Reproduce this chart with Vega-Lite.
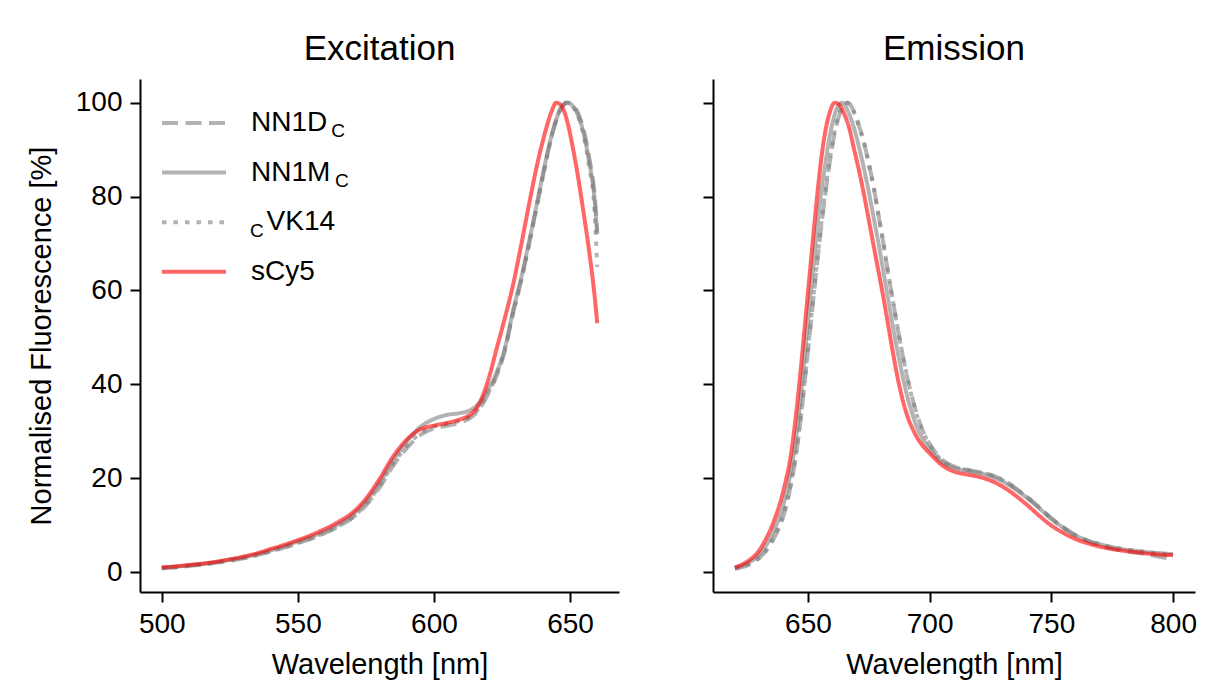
{
  "$schema": "https://vega.github.io/schema/vega-lite/v6.json",
  "background": "white",
  "padding": {"left": 27, "top": 32, "right": 5, "bottom": 5},
  "config": {
    "font": "Liberation Sans",
    "view": {"stroke": null},
    "axis": {"domainColor": "black", "domainWidth": 2, "tickColor": "black", "tickWidth": 2, "tickSize": 10, "labelFontSize": 28, "labelColor": "black", "titleFontSize": 29, "titleColor": "black", "titleFontWeight": "normal", "grid": false, "labelPadding": 5},
    "title": {"fontSize": 35, "fontWeight": "normal", "color": "black", "anchor": "middle", "offset": 12}
  },
  "datasets": {
    "spectra": [
      {"panel":"Excitation","sample":"NN1DC","nm":500,"pct":0.8},{"panel":"Excitation","sample":"NN1DC","nm":505,"pct":1.0},{"panel":"Excitation","sample":"NN1DC","nm":510,"pct":1.3},{"panel":"Excitation","sample":"NN1DC","nm":515,"pct":1.6},{"panel":"Excitation","sample":"NN1DC","nm":520,"pct":2.0},{"panel":"Excitation","sample":"NN1DC","nm":525,"pct":2.4},{"panel":"Excitation","sample":"NN1DC","nm":530,"pct":2.9},{"panel":"Excitation","sample":"NN1DC","nm":535,"pct":3.6},{"panel":"Excitation","sample":"NN1DC","nm":540,"pct":4.4},{"panel":"Excitation","sample":"NN1DC","nm":545,"pct":5.2},{"panel":"Excitation","sample":"NN1DC","nm":550,"pct":6.1},{"panel":"Excitation","sample":"NN1DC","nm":555,"pct":7.1},{"panel":"Excitation","sample":"NN1DC","nm":560,"pct":8.3},{"panel":"Excitation","sample":"NN1DC","nm":565,"pct":9.7},{"panel":"Excitation","sample":"NN1DC","nm":570,"pct":11.5},{"panel":"Excitation","sample":"NN1DC","nm":575,"pct":14.2},{"panel":"Excitation","sample":"NN1DC","nm":580,"pct":18.0},{"panel":"Excitation","sample":"NN1DC","nm":585,"pct":22.6},{"panel":"Excitation","sample":"NN1DC","nm":590,"pct":26.4},{"panel":"Excitation","sample":"NN1DC","nm":595,"pct":29.2},{"panel":"Excitation","sample":"NN1DC","nm":600,"pct":30.6},{"panel":"Excitation","sample":"NN1DC","nm":605,"pct":31.2},{"panel":"Excitation","sample":"NN1DC","nm":610,"pct":31.9},{"panel":"Excitation","sample":"NN1DC","nm":613,"pct":32.7},{"panel":"Excitation","sample":"NN1DC","nm":616,"pct":34.2},{"panel":"Excitation","sample":"NN1DC","nm":620,"pct":38.0},{"panel":"Excitation","sample":"NN1DC","nm":623,"pct":41.8},{"panel":"Excitation","sample":"NN1DC","nm":626,"pct":47.0},{"panel":"Excitation","sample":"NN1DC","nm":629,"pct":55.0},{"panel":"Excitation","sample":"NN1DC","nm":632,"pct":62.0},{"panel":"Excitation","sample":"NN1DC","nm":635,"pct":70.0},{"panel":"Excitation","sample":"NN1DC","nm":638,"pct":78.5},{"panel":"Excitation","sample":"NN1DC","nm":641,"pct":87.0},{"panel":"Excitation","sample":"NN1DC","nm":643,"pct":92.3},{"panel":"Excitation","sample":"NN1DC","nm":645,"pct":96.3},{"panel":"Excitation","sample":"NN1DC","nm":647,"pct":99.0},{"panel":"Excitation","sample":"NN1DC","nm":649,"pct":100},{"panel":"Excitation","sample":"NN1DC","nm":651,"pct":99.5},{"panel":"Excitation","sample":"NN1DC","nm":653,"pct":97.8},{"panel":"Excitation","sample":"NN1DC","nm":655,"pct":94.3},{"panel":"Excitation","sample":"NN1DC","nm":657,"pct":88.5},{"panel":"Excitation","sample":"NN1DC","nm":659,"pct":80.5},{"panel":"Excitation","sample":"NN1DC","nm":660,"pct":72.5},
      {"panel":"Excitation","sample":"NN1MC","nm":500,"pct":0.9},{"panel":"Excitation","sample":"NN1MC","nm":505,"pct":1.1},{"panel":"Excitation","sample":"NN1MC","nm":510,"pct":1.4},{"panel":"Excitation","sample":"NN1MC","nm":515,"pct":1.7},{"panel":"Excitation","sample":"NN1MC","nm":520,"pct":2.1},{"panel":"Excitation","sample":"NN1MC","nm":525,"pct":2.6},{"panel":"Excitation","sample":"NN1MC","nm":530,"pct":3.1},{"panel":"Excitation","sample":"NN1MC","nm":535,"pct":3.8},{"panel":"Excitation","sample":"NN1MC","nm":540,"pct":4.6},{"panel":"Excitation","sample":"NN1MC","nm":545,"pct":5.5},{"panel":"Excitation","sample":"NN1MC","nm":550,"pct":6.5},{"panel":"Excitation","sample":"NN1MC","nm":555,"pct":7.5},{"panel":"Excitation","sample":"NN1MC","nm":560,"pct":8.7},{"panel":"Excitation","sample":"NN1MC","nm":565,"pct":10.2},{"panel":"Excitation","sample":"NN1MC","nm":570,"pct":12.1},{"panel":"Excitation","sample":"NN1MC","nm":575,"pct":15.0},{"panel":"Excitation","sample":"NN1MC","nm":580,"pct":19.0},{"panel":"Excitation","sample":"NN1MC","nm":585,"pct":23.8},{"panel":"Excitation","sample":"NN1MC","nm":590,"pct":27.8},{"panel":"Excitation","sample":"NN1MC","nm":595,"pct":30.9},{"panel":"Excitation","sample":"NN1MC","nm":600,"pct":32.6},{"panel":"Excitation","sample":"NN1MC","nm":605,"pct":33.5},{"panel":"Excitation","sample":"NN1MC","nm":610,"pct":33.9},{"panel":"Excitation","sample":"NN1MC","nm":613,"pct":34.4},{"panel":"Excitation","sample":"NN1MC","nm":616,"pct":35.6},{"panel":"Excitation","sample":"NN1MC","nm":620,"pct":39.0},{"panel":"Excitation","sample":"NN1MC","nm":623,"pct":42.5},{"panel":"Excitation","sample":"NN1MC","nm":626,"pct":47.5},{"panel":"Excitation","sample":"NN1MC","nm":629,"pct":55.5},{"panel":"Excitation","sample":"NN1MC","nm":632,"pct":62.5},{"panel":"Excitation","sample":"NN1MC","nm":635,"pct":70.5},{"panel":"Excitation","sample":"NN1MC","nm":638,"pct":79.0},{"panel":"Excitation","sample":"NN1MC","nm":641,"pct":87.5},{"panel":"Excitation","sample":"NN1MC","nm":643,"pct":92.5},{"panel":"Excitation","sample":"NN1MC","nm":645,"pct":96.5},{"panel":"Excitation","sample":"NN1MC","nm":647,"pct":99.2},{"panel":"Excitation","sample":"NN1MC","nm":649,"pct":100},{"panel":"Excitation","sample":"NN1MC","nm":651,"pct":99.3},{"panel":"Excitation","sample":"NN1MC","nm":653,"pct":97.2},{"panel":"Excitation","sample":"NN1MC","nm":655,"pct":93.5},{"panel":"Excitation","sample":"NN1MC","nm":657,"pct":87.5},{"panel":"Excitation","sample":"NN1MC","nm":659,"pct":79.5},{"panel":"Excitation","sample":"NN1MC","nm":660,"pct":72.0},
      {"panel":"Excitation","sample":"cVK14","nm":500,"pct":0.8},{"panel":"Excitation","sample":"cVK14","nm":505,"pct":1.0},{"panel":"Excitation","sample":"cVK14","nm":510,"pct":1.3},{"panel":"Excitation","sample":"cVK14","nm":515,"pct":1.6},{"panel":"Excitation","sample":"cVK14","nm":520,"pct":2.0},{"panel":"Excitation","sample":"cVK14","nm":525,"pct":2.5},{"panel":"Excitation","sample":"cVK14","nm":530,"pct":3.0},{"panel":"Excitation","sample":"cVK14","nm":535,"pct":3.6},{"panel":"Excitation","sample":"cVK14","nm":540,"pct":4.4},{"panel":"Excitation","sample":"cVK14","nm":545,"pct":5.3},{"panel":"Excitation","sample":"cVK14","nm":550,"pct":6.2},{"panel":"Excitation","sample":"cVK14","nm":555,"pct":7.2},{"panel":"Excitation","sample":"cVK14","nm":560,"pct":8.4},{"panel":"Excitation","sample":"cVK14","nm":565,"pct":9.8},{"panel":"Excitation","sample":"cVK14","nm":570,"pct":11.6},{"panel":"Excitation","sample":"cVK14","nm":575,"pct":14.4},{"panel":"Excitation","sample":"cVK14","nm":580,"pct":18.3},{"panel":"Excitation","sample":"cVK14","nm":585,"pct":23.0},{"panel":"Excitation","sample":"cVK14","nm":590,"pct":26.8},{"panel":"Excitation","sample":"cVK14","nm":595,"pct":29.6},{"panel":"Excitation","sample":"cVK14","nm":600,"pct":31.0},{"panel":"Excitation","sample":"cVK14","nm":605,"pct":31.6},{"panel":"Excitation","sample":"cVK14","nm":610,"pct":32.3},{"panel":"Excitation","sample":"cVK14","nm":613,"pct":33.0},{"panel":"Excitation","sample":"cVK14","nm":616,"pct":34.5},{"panel":"Excitation","sample":"cVK14","nm":620,"pct":38.3},{"panel":"Excitation","sample":"cVK14","nm":623,"pct":42.0},{"panel":"Excitation","sample":"cVK14","nm":626,"pct":47.5},{"panel":"Excitation","sample":"cVK14","nm":629,"pct":55.0},{"panel":"Excitation","sample":"cVK14","nm":632,"pct":62.0},{"panel":"Excitation","sample":"cVK14","nm":635,"pct":70.0},{"panel":"Excitation","sample":"cVK14","nm":638,"pct":78.5},{"panel":"Excitation","sample":"cVK14","nm":641,"pct":87.0},{"panel":"Excitation","sample":"cVK14","nm":643,"pct":92.3},{"panel":"Excitation","sample":"cVK14","nm":645,"pct":96.5},{"panel":"Excitation","sample":"cVK14","nm":647,"pct":99.2},{"panel":"Excitation","sample":"cVK14","nm":649,"pct":100},{"panel":"Excitation","sample":"cVK14","nm":651,"pct":99.2},{"panel":"Excitation","sample":"cVK14","nm":653,"pct":97.0},{"panel":"Excitation","sample":"cVK14","nm":655,"pct":93.0},{"panel":"Excitation","sample":"cVK14","nm":657,"pct":86.5},{"panel":"Excitation","sample":"cVK14","nm":659,"pct":77.0},{"panel":"Excitation","sample":"cVK14","nm":660,"pct":65.0},
      {"panel":"Excitation","sample":"sCy5","nm":500,"pct":1.0},{"panel":"Excitation","sample":"sCy5","nm":505,"pct":1.2},{"panel":"Excitation","sample":"sCy5","nm":510,"pct":1.5},{"panel":"Excitation","sample":"sCy5","nm":515,"pct":1.8},{"panel":"Excitation","sample":"sCy5","nm":520,"pct":2.2},{"panel":"Excitation","sample":"sCy5","nm":525,"pct":2.7},{"panel":"Excitation","sample":"sCy5","nm":530,"pct":3.3},{"panel":"Excitation","sample":"sCy5","nm":535,"pct":4.0},{"panel":"Excitation","sample":"sCy5","nm":540,"pct":4.9},{"panel":"Excitation","sample":"sCy5","nm":545,"pct":5.8},{"panel":"Excitation","sample":"sCy5","nm":550,"pct":6.8},{"panel":"Excitation","sample":"sCy5","nm":555,"pct":7.9},{"panel":"Excitation","sample":"sCy5","nm":560,"pct":9.2},{"panel":"Excitation","sample":"sCy5","nm":565,"pct":10.7},{"panel":"Excitation","sample":"sCy5","nm":570,"pct":12.6},{"panel":"Excitation","sample":"sCy5","nm":575,"pct":15.6},{"panel":"Excitation","sample":"sCy5","nm":580,"pct":19.8},{"panel":"Excitation","sample":"sCy5","nm":585,"pct":24.6},{"panel":"Excitation","sample":"sCy5","nm":590,"pct":28.2},{"panel":"Excitation","sample":"sCy5","nm":595,"pct":30.4},{"panel":"Excitation","sample":"sCy5","nm":600,"pct":31.2},{"panel":"Excitation","sample":"sCy5","nm":605,"pct":31.8},{"panel":"Excitation","sample":"sCy5","nm":610,"pct":32.6},{"panel":"Excitation","sample":"sCy5","nm":613,"pct":33.4},{"panel":"Excitation","sample":"sCy5","nm":616,"pct":35.2},{"panel":"Excitation","sample":"sCy5","nm":620,"pct":41.0},{"panel":"Excitation","sample":"sCy5","nm":623,"pct":47.5},{"panel":"Excitation","sample":"sCy5","nm":626,"pct":54.0},{"panel":"Excitation","sample":"sCy5","nm":629,"pct":61.0},{"panel":"Excitation","sample":"sCy5","nm":632,"pct":69.5},{"panel":"Excitation","sample":"sCy5","nm":635,"pct":78.5},{"panel":"Excitation","sample":"sCy5","nm":638,"pct":87.0},{"panel":"Excitation","sample":"sCy5","nm":641,"pct":94.0},{"panel":"Excitation","sample":"sCy5","nm":643,"pct":97.8},{"panel":"Excitation","sample":"sCy5","nm":645,"pct":100},{"panel":"Excitation","sample":"sCy5","nm":647,"pct":99.2},{"panel":"Excitation","sample":"sCy5","nm":649,"pct":96.0},{"panel":"Excitation","sample":"sCy5","nm":651,"pct":90.5},{"panel":"Excitation","sample":"sCy5","nm":653,"pct":84.0},{"panel":"Excitation","sample":"sCy5","nm":655,"pct":76.5},{"panel":"Excitation","sample":"sCy5","nm":657,"pct":68.5},{"panel":"Excitation","sample":"sCy5","nm":659,"pct":59.0},{"panel":"Excitation","sample":"sCy5","nm":660,"pct":53.0},
      {"panel":"Emission","sample":"NN1DC","nm":620,"pct":0.7},{"panel":"Emission","sample":"NN1DC","nm":625,"pct":1.4},{"panel":"Emission","sample":"NN1DC","nm":630,"pct":3.0},{"panel":"Emission","sample":"NN1DC","nm":633,"pct":4.6},{"panel":"Emission","sample":"NN1DC","nm":636,"pct":7.2},{"panel":"Emission","sample":"NN1DC","nm":640,"pct":12.0},{"panel":"Emission","sample":"NN1DC","nm":643,"pct":18.5},{"panel":"Emission","sample":"NN1DC","nm":645,"pct":24.5},{"panel":"Emission","sample":"NN1DC","nm":647,"pct":32.5},{"panel":"Emission","sample":"NN1DC","nm":649,"pct":42.0},{"panel":"Emission","sample":"NN1DC","nm":651,"pct":52.0},{"panel":"Emission","sample":"NN1DC","nm":653,"pct":62.0},{"panel":"Emission","sample":"NN1DC","nm":655,"pct":71.5},{"panel":"Emission","sample":"NN1DC","nm":657,"pct":80.0},{"panel":"Emission","sample":"NN1DC","nm":659,"pct":87.5},{"panel":"Emission","sample":"NN1DC","nm":661,"pct":93.5},{"panel":"Emission","sample":"NN1DC","nm":663,"pct":97.5},{"panel":"Emission","sample":"NN1DC","nm":665,"pct":99.6},{"panel":"Emission","sample":"NN1DC","nm":666,"pct":100},{"panel":"Emission","sample":"NN1DC","nm":667,"pct":99.8},{"panel":"Emission","sample":"NN1DC","nm":669,"pct":98.0},{"panel":"Emission","sample":"NN1DC","nm":671,"pct":95.0},{"panel":"Emission","sample":"NN1DC","nm":673,"pct":91.5},{"panel":"Emission","sample":"NN1DC","nm":675,"pct":87.0},{"panel":"Emission","sample":"NN1DC","nm":677,"pct":82.0},{"panel":"Emission","sample":"NN1DC","nm":679,"pct":76.0},{"panel":"Emission","sample":"NN1DC","nm":681,"pct":70.0},{"panel":"Emission","sample":"NN1DC","nm":683,"pct":63.5},{"panel":"Emission","sample":"NN1DC","nm":685,"pct":57.5},{"panel":"Emission","sample":"NN1DC","nm":687,"pct":51.5},{"panel":"Emission","sample":"NN1DC","nm":689,"pct":46.0},{"panel":"Emission","sample":"NN1DC","nm":691,"pct":41.0},{"panel":"Emission","sample":"NN1DC","nm":693,"pct":36.8},{"panel":"Emission","sample":"NN1DC","nm":695,"pct":33.2},{"panel":"Emission","sample":"NN1DC","nm":697,"pct":30.3},{"panel":"Emission","sample":"NN1DC","nm":700,"pct":27.3},{"panel":"Emission","sample":"NN1DC","nm":705,"pct":24.0},{"panel":"Emission","sample":"NN1DC","nm":710,"pct":22.5},{"panel":"Emission","sample":"NN1DC","nm":715,"pct":21.8},{"panel":"Emission","sample":"NN1DC","nm":720,"pct":21.3},{"panel":"Emission","sample":"NN1DC","nm":725,"pct":20.7},{"panel":"Emission","sample":"NN1DC","nm":730,"pct":19.7},{"panel":"Emission","sample":"NN1DC","nm":735,"pct":18.0},{"panel":"Emission","sample":"NN1DC","nm":740,"pct":16.0},{"panel":"Emission","sample":"NN1DC","nm":745,"pct":13.8},{"panel":"Emission","sample":"NN1DC","nm":750,"pct":11.5},{"panel":"Emission","sample":"NN1DC","nm":755,"pct":9.5},{"panel":"Emission","sample":"NN1DC","nm":760,"pct":7.8},{"panel":"Emission","sample":"NN1DC","nm":765,"pct":6.6},{"panel":"Emission","sample":"NN1DC","nm":770,"pct":5.7},{"panel":"Emission","sample":"NN1DC","nm":775,"pct":5.0},{"panel":"Emission","sample":"NN1DC","nm":780,"pct":4.5},{"panel":"Emission","sample":"NN1DC","nm":785,"pct":4.1},{"panel":"Emission","sample":"NN1DC","nm":790,"pct":3.7},{"panel":"Emission","sample":"NN1DC","nm":795,"pct":3.2},{"panel":"Emission","sample":"NN1DC","nm":800,"pct":2.7},
      {"panel":"Emission","sample":"NN1MC","nm":620,"pct":0.9},{"panel":"Emission","sample":"NN1MC","nm":625,"pct":1.8},{"panel":"Emission","sample":"NN1MC","nm":630,"pct":3.7},{"panel":"Emission","sample":"NN1MC","nm":633,"pct":5.8},{"panel":"Emission","sample":"NN1MC","nm":636,"pct":8.8},{"panel":"Emission","sample":"NN1MC","nm":640,"pct":14.5},{"panel":"Emission","sample":"NN1MC","nm":643,"pct":21.5},{"panel":"Emission","sample":"NN1MC","nm":645,"pct":28.0},{"panel":"Emission","sample":"NN1MC","nm":647,"pct":37.0},{"panel":"Emission","sample":"NN1MC","nm":649,"pct":48.0},{"panel":"Emission","sample":"NN1MC","nm":651,"pct":59.0},{"panel":"Emission","sample":"NN1MC","nm":653,"pct":69.5},{"panel":"Emission","sample":"NN1MC","nm":655,"pct":79.0},{"panel":"Emission","sample":"NN1MC","nm":657,"pct":86.5},{"panel":"Emission","sample":"NN1MC","nm":659,"pct":93.0},{"panel":"Emission","sample":"NN1MC","nm":661,"pct":97.5},{"panel":"Emission","sample":"NN1MC","nm":663,"pct":99.7},{"panel":"Emission","sample":"NN1MC","nm":664,"pct":100},{"panel":"Emission","sample":"NN1MC","nm":665,"pct":99.6},{"panel":"Emission","sample":"NN1MC","nm":667,"pct":97.5},{"panel":"Emission","sample":"NN1MC","nm":669,"pct":94.5},{"panel":"Emission","sample":"NN1MC","nm":671,"pct":90.5},{"panel":"Emission","sample":"NN1MC","nm":673,"pct":86.0},{"panel":"Emission","sample":"NN1MC","nm":675,"pct":81.0},{"panel":"Emission","sample":"NN1MC","nm":677,"pct":75.5},{"panel":"Emission","sample":"NN1MC","nm":679,"pct":70.0},{"panel":"Emission","sample":"NN1MC","nm":681,"pct":64.0},{"panel":"Emission","sample":"NN1MC","nm":683,"pct":58.0},{"panel":"Emission","sample":"NN1MC","nm":685,"pct":52.0},{"panel":"Emission","sample":"NN1MC","nm":687,"pct":46.5},{"panel":"Emission","sample":"NN1MC","nm":689,"pct":41.5},{"panel":"Emission","sample":"NN1MC","nm":691,"pct":37.0},{"panel":"Emission","sample":"NN1MC","nm":693,"pct":33.5},{"panel":"Emission","sample":"NN1MC","nm":695,"pct":30.5},{"panel":"Emission","sample":"NN1MC","nm":697,"pct":28.5},{"panel":"Emission","sample":"NN1MC","nm":700,"pct":26.2},{"panel":"Emission","sample":"NN1MC","nm":705,"pct":23.5},{"panel":"Emission","sample":"NN1MC","nm":710,"pct":22.2},{"panel":"Emission","sample":"NN1MC","nm":715,"pct":21.6},{"panel":"Emission","sample":"NN1MC","nm":720,"pct":21.1},{"panel":"Emission","sample":"NN1MC","nm":725,"pct":20.4},{"panel":"Emission","sample":"NN1MC","nm":730,"pct":19.3},{"panel":"Emission","sample":"NN1MC","nm":735,"pct":17.7},{"panel":"Emission","sample":"NN1MC","nm":740,"pct":15.8},{"panel":"Emission","sample":"NN1MC","nm":745,"pct":13.6},{"panel":"Emission","sample":"NN1MC","nm":750,"pct":11.3},{"panel":"Emission","sample":"NN1MC","nm":755,"pct":9.4},{"panel":"Emission","sample":"NN1MC","nm":760,"pct":7.8},{"panel":"Emission","sample":"NN1MC","nm":765,"pct":6.7},{"panel":"Emission","sample":"NN1MC","nm":770,"pct":5.9},{"panel":"Emission","sample":"NN1MC","nm":775,"pct":5.3},{"panel":"Emission","sample":"NN1MC","nm":780,"pct":4.8},{"panel":"Emission","sample":"NN1MC","nm":785,"pct":4.5},{"panel":"Emission","sample":"NN1MC","nm":790,"pct":4.2},{"panel":"Emission","sample":"NN1MC","nm":795,"pct":4.0},{"panel":"Emission","sample":"NN1MC","nm":800,"pct":3.8},
      {"panel":"Emission","sample":"cVK14","nm":620,"pct":0.8},{"panel":"Emission","sample":"cVK14","nm":625,"pct":1.5},{"panel":"Emission","sample":"cVK14","nm":630,"pct":3.1},{"panel":"Emission","sample":"cVK14","nm":633,"pct":4.8},{"panel":"Emission","sample":"cVK14","nm":636,"pct":7.5},{"panel":"Emission","sample":"cVK14","nm":640,"pct":12.5},{"panel":"Emission","sample":"cVK14","nm":643,"pct":19.0},{"panel":"Emission","sample":"cVK14","nm":645,"pct":25.0},{"panel":"Emission","sample":"cVK14","nm":647,"pct":33.0},{"panel":"Emission","sample":"cVK14","nm":649,"pct":42.5},{"panel":"Emission","sample":"cVK14","nm":651,"pct":52.5},{"panel":"Emission","sample":"cVK14","nm":653,"pct":62.5},{"panel":"Emission","sample":"cVK14","nm":655,"pct":72.0},{"panel":"Emission","sample":"cVK14","nm":657,"pct":80.5},{"panel":"Emission","sample":"cVK14","nm":659,"pct":88.0},{"panel":"Emission","sample":"cVK14","nm":661,"pct":94.0},{"panel":"Emission","sample":"cVK14","nm":663,"pct":98.0},{"panel":"Emission","sample":"cVK14","nm":665,"pct":99.8},{"panel":"Emission","sample":"cVK14","nm":666,"pct":100},{"panel":"Emission","sample":"cVK14","nm":667,"pct":99.7},{"panel":"Emission","sample":"cVK14","nm":669,"pct":97.8},{"panel":"Emission","sample":"cVK14","nm":671,"pct":95.0},{"panel":"Emission","sample":"cVK14","nm":673,"pct":91.5},{"panel":"Emission","sample":"cVK14","nm":675,"pct":87.0},{"panel":"Emission","sample":"cVK14","nm":677,"pct":82.0},{"panel":"Emission","sample":"cVK14","nm":679,"pct":76.0},{"panel":"Emission","sample":"cVK14","nm":681,"pct":70.0},{"panel":"Emission","sample":"cVK14","nm":683,"pct":63.5},{"panel":"Emission","sample":"cVK14","nm":685,"pct":57.5},{"panel":"Emission","sample":"cVK14","nm":687,"pct":51.5},{"panel":"Emission","sample":"cVK14","nm":689,"pct":46.0},{"panel":"Emission","sample":"cVK14","nm":691,"pct":41.0},{"panel":"Emission","sample":"cVK14","nm":693,"pct":36.7},{"panel":"Emission","sample":"cVK14","nm":695,"pct":33.0},{"panel":"Emission","sample":"cVK14","nm":697,"pct":30.2},{"panel":"Emission","sample":"cVK14","nm":700,"pct":27.2},{"panel":"Emission","sample":"cVK14","nm":705,"pct":23.8},{"panel":"Emission","sample":"cVK14","nm":710,"pct":22.4},{"panel":"Emission","sample":"cVK14","nm":715,"pct":21.8},{"panel":"Emission","sample":"cVK14","nm":720,"pct":21.3},{"panel":"Emission","sample":"cVK14","nm":725,"pct":20.7},{"panel":"Emission","sample":"cVK14","nm":730,"pct":19.6},{"panel":"Emission","sample":"cVK14","nm":735,"pct":17.9},{"panel":"Emission","sample":"cVK14","nm":740,"pct":15.9},{"panel":"Emission","sample":"cVK14","nm":745,"pct":13.7},{"panel":"Emission","sample":"cVK14","nm":750,"pct":11.4},{"panel":"Emission","sample":"cVK14","nm":755,"pct":9.4},{"panel":"Emission","sample":"cVK14","nm":760,"pct":7.8},{"panel":"Emission","sample":"cVK14","nm":765,"pct":6.7},{"panel":"Emission","sample":"cVK14","nm":770,"pct":5.9},{"panel":"Emission","sample":"cVK14","nm":775,"pct":5.3},{"panel":"Emission","sample":"cVK14","nm":780,"pct":4.9},{"panel":"Emission","sample":"cVK14","nm":785,"pct":4.5},{"panel":"Emission","sample":"cVK14","nm":790,"pct":4.2},{"panel":"Emission","sample":"cVK14","nm":795,"pct":3.9},{"panel":"Emission","sample":"cVK14","nm":800,"pct":3.7},
      {"panel":"Emission","sample":"sCy5","nm":620,"pct":1.0},{"panel":"Emission","sample":"sCy5","nm":625,"pct":2.2},{"panel":"Emission","sample":"sCy5","nm":630,"pct":4.6},{"panel":"Emission","sample":"sCy5","nm":633,"pct":7.3},{"panel":"Emission","sample":"sCy5","nm":636,"pct":10.8},{"panel":"Emission","sample":"sCy5","nm":640,"pct":17.5},{"panel":"Emission","sample":"sCy5","nm":643,"pct":25.0},{"panel":"Emission","sample":"sCy5","nm":645,"pct":33.0},{"panel":"Emission","sample":"sCy5","nm":647,"pct":43.0},{"panel":"Emission","sample":"sCy5","nm":649,"pct":54.0},{"panel":"Emission","sample":"sCy5","nm":651,"pct":65.0},{"panel":"Emission","sample":"sCy5","nm":653,"pct":76.0},{"panel":"Emission","sample":"sCy5","nm":655,"pct":86.0},{"panel":"Emission","sample":"sCy5","nm":657,"pct":93.5},{"panel":"Emission","sample":"sCy5","nm":659,"pct":98.0},{"panel":"Emission","sample":"sCy5","nm":661,"pct":100},{"panel":"Emission","sample":"sCy5","nm":663,"pct":99.5},{"panel":"Emission","sample":"sCy5","nm":665,"pct":97.5},{"panel":"Emission","sample":"sCy5","nm":667,"pct":94.5},{"panel":"Emission","sample":"sCy5","nm":669,"pct":90.0},{"panel":"Emission","sample":"sCy5","nm":671,"pct":85.5},{"panel":"Emission","sample":"sCy5","nm":673,"pct":80.5},{"panel":"Emission","sample":"sCy5","nm":675,"pct":75.0},{"panel":"Emission","sample":"sCy5","nm":677,"pct":69.5},{"panel":"Emission","sample":"sCy5","nm":679,"pct":64.0},{"panel":"Emission","sample":"sCy5","nm":681,"pct":58.5},{"panel":"Emission","sample":"sCy5","nm":683,"pct":52.5},{"panel":"Emission","sample":"sCy5","nm":685,"pct":46.5},{"panel":"Emission","sample":"sCy5","nm":687,"pct":41.0},{"panel":"Emission","sample":"sCy5","nm":689,"pct":36.5},{"panel":"Emission","sample":"sCy5","nm":691,"pct":33.0},{"panel":"Emission","sample":"sCy5","nm":693,"pct":30.5},{"panel":"Emission","sample":"sCy5","nm":695,"pct":28.5},{"panel":"Emission","sample":"sCy5","nm":697,"pct":27.0},{"panel":"Emission","sample":"sCy5","nm":700,"pct":25.3},{"panel":"Emission","sample":"sCy5","nm":705,"pct":22.8},{"panel":"Emission","sample":"sCy5","nm":710,"pct":21.4},{"panel":"Emission","sample":"sCy5","nm":715,"pct":20.8},{"panel":"Emission","sample":"sCy5","nm":720,"pct":20.3},{"panel":"Emission","sample":"sCy5","nm":725,"pct":19.5},{"panel":"Emission","sample":"sCy5","nm":730,"pct":18.2},{"panel":"Emission","sample":"sCy5","nm":735,"pct":16.4},{"panel":"Emission","sample":"sCy5","nm":740,"pct":14.3},{"panel":"Emission","sample":"sCy5","nm":745,"pct":12.0},{"panel":"Emission","sample":"sCy5","nm":750,"pct":9.9},{"panel":"Emission","sample":"sCy5","nm":755,"pct":8.3},{"panel":"Emission","sample":"sCy5","nm":760,"pct":7.0},{"panel":"Emission","sample":"sCy5","nm":765,"pct":6.1},{"panel":"Emission","sample":"sCy5","nm":770,"pct":5.4},{"panel":"Emission","sample":"sCy5","nm":775,"pct":4.9},{"panel":"Emission","sample":"sCy5","nm":780,"pct":4.5},{"panel":"Emission","sample":"sCy5","nm":785,"pct":4.2},{"panel":"Emission","sample":"sCy5","nm":790,"pct":3.9},{"panel":"Emission","sample":"sCy5","nm":795,"pct":3.7},{"panel":"Emission","sample":"sCy5","nm":800,"pct":3.6}
    ]
  },
  "spacing": 83,
  "resolve": {
    "scale": {"color": "independent", "strokeDash": "independent", "opacity": "independent"},
    "legend": {"color": "independent", "strokeDash": "independent", "opacity": "independent"}
  },
  "hconcat": [
    {
      "title": "Excitation",
      "width": 479,
      "height": 513,
      "data": {"name": "spectra"},
      "transform": [{"filter": "datum.panel == 'Excitation'"}],
      "mark": {"type": "line", "strokeWidth": 4, "interpolate": "monotone"},
      "encoding": {
        "x": {"field": "nm", "type": "quantitative", "scale": {"domain": [492, 668], "nice": false, "zero": false}, "axis": {"values": [500, 550, 600, 650], "title": "Wavelength [nm]", "titlePadding": 12, "labelPadding": 8}},
        "y": {"field": "pct", "type": "quantitative", "scale": {"domain": [-4.26, 105.05], "nice": false, "zero": false}, "axis": {"values": [0, 20, 40, 60, 80, 100], "title": "Normalised Fluorescence [%]", "titlePadding": 19, "labelPadding": 8}},
        "color": {"field": "sample", "type": "nominal", "scale": {"domain": ["NN1DC", "NN1MC", "cVK14", "sCy5"], "range": ["gray", "gray", "gray", "red"]},
          "legend": {"title": null, "orient": "none", "legendX": 20, "legendY": 10, "padding": 0, "symbolType": "stroke", "symbolSize": 4096, "symbolStrokeWidth": 4, "symbolOpacity": 0.6, "labelFontSize": 28, "labelColor": "black", "labelOffset": 23, "rowPadding": 1.6,
            "labelExpr": "datum.value == 'NN1DC' ? 'NN1D' : datum.value == 'NN1MC' ? 'NN1M' : datum.value == 'cVK14' ? '\u200b\u00a0\u00a0VK14' : 'sCy5'"}},
        "strokeDash": {"field": "sample", "type": "nominal", "scale": {"domain": ["NN1DC", "NN1MC", "cVK14", "sCy5"], "range": [[16, 7.5], [1, 0], [4.5, 7], [1, 0]]},
          "legend": {"title": null, "orient": "none", "legendX": 20, "legendY": 10, "padding": 0, "symbolType": "stroke", "symbolSize": 4096, "symbolStrokeWidth": 4, "symbolOpacity": 0.6, "labelFontSize": 28, "labelColor": "black", "labelOffset": 23, "rowPadding": 1.6,
            "labelExpr": "datum.value == 'NN1DC' ? 'NN1D' : datum.value == 'NN1MC' ? 'NN1M' : datum.value == 'cVK14' ? '\u200b\u00a0\u00a0VK14' : 'sCy5'"}},
        "opacity": {"field": "sample", "type": "nominal", "scale": {"type": "point", "domain": ["NN1DC", "NN1MC", "cVK14", "sCy5", "none"], "range": [0.6, 0.6]},
          "legend": {"title": null, "orient": "none", "legendX": 78, "legendY": 38, "padding": 0, "values": ["NN1DC", "NN1MC", "cVK14", "sCy5"], "symbolType": "square", "symbolSize": 784, "symbolOpacity": 0, "symbolStrokeWidth": 0, "labelFontSize": 19, "labelColor": "black", "labelOffset": 4, "rowPadding": 22,
            "labelExpr": "datum.value == 'NN1DC' ? '\u200b\u2003\u2003\u2003\u2003\u00a0C' : datum.value == 'NN1MC' ? '\u200b\u2003\u2003\u2003\u2003\u00a0\u2009C' : datum.value == 'cVK14' ? 'C' : ''"}}
      }
    },
    {
      "title": "Emission",
      "width": 482,
      "height": 513,
      "data": {"name": "spectra"},
      "transform": [{"filter": "datum.panel == 'Emission'"}],
      "mark": {"type": "line", "strokeWidth": 4, "interpolate": "monotone"},
      "encoding": {
        "x": {"field": "nm", "type": "quantitative", "scale": {"domain": [611, 809], "nice": false, "zero": false}, "axis": {"values": [650, 700, 750, 800], "title": "Wavelength [nm]", "titlePadding": 12, "labelPadding": 8}},
        "y": {"field": "pct", "type": "quantitative", "scale": {"domain": [-4.26, 105.05], "nice": false, "zero": false}, "axis": {"values": [0, 20, 40, 60, 80, 100], "title": null, "labels": false}},
        "color": {"field": "sample", "type": "nominal", "scale": {"domain": ["NN1DC", "NN1MC", "cVK14", "sCy5"], "range": ["gray", "gray", "gray", "red"]}, "legend": null},
        "strokeDash": {"field": "sample", "type": "nominal", "scale": {"domain": ["NN1DC", "NN1MC", "cVK14", "sCy5"], "range": [[16, 7.5], [1, 0], [4.5, 7], [1, 0]]}, "legend": null},
        "opacity": {"field": "sample", "type": "nominal", "scale": {"type": "point", "domain": ["NN1DC", "NN1MC", "cVK14", "sCy5", "none"], "range": [0.6, 0.6]}, "legend": null}
      }
    }
  ]
}
